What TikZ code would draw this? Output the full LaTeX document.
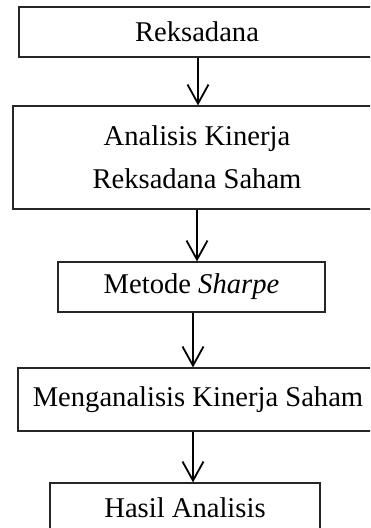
\documentclass[tikz,border=0pt]{standalone}
\usepackage{fontspec}
\setmainfont{Liberation Serif}
\usetikzlibrary{arrows.meta}
\begin{document}
\begin{tikzpicture}[x=1pt,y=1pt,
  box/.style={draw=black!85,line width=1.2pt,inner sep=0pt,align=center,
    font=\fontsize{28.6}{43}\selectfont},
  arr/.style={line width=1.8pt,-{Straight Barb[length=19pt,width=21pt,line width=1.8pt]}}]
\useasboundingbox (0,0) rectangle (370,-528);
\clip (0,0) rectangle (370,-528);
\node[box,minimum width=356pt,minimum height=50pt] (b1) at (197,-32) {Reksadana};
\node[box,minimum width=368pt,minimum height=103pt] (b2) at (197,-157.5) {Analisis Kinerja\\Reksadana Saham};
\node[box,minimum width=267pt,minimum height=50pt] (b3) at (191.5,-287) {Metode \textit{Sharpe}};
\node[box,minimum width=360pt,minimum height=63pt] (b4) at (198,-399.5) {Menganalisis Kinerja Saham};
\node[box,minimum width=270pt,minimum height=50pt] (b5) at (185,-508) {Hasil Analisis};
\draw[arr] ([xshift=1pt]b1.south) -- ([xshift=1pt]b1.south |- b2.north);
\draw[arr] (b2.south) -- (b2.south |- b3.north);
\draw[arr] ([xshift=1.5pt]b3.south) -- ([xshift=1.5pt]b3.south |- b4.north);
\draw[arr] ([xshift=-5pt]b4.south) -- ([xshift=-5pt]b4.south |- b5.north);
\end{tikzpicture}
\end{document}
